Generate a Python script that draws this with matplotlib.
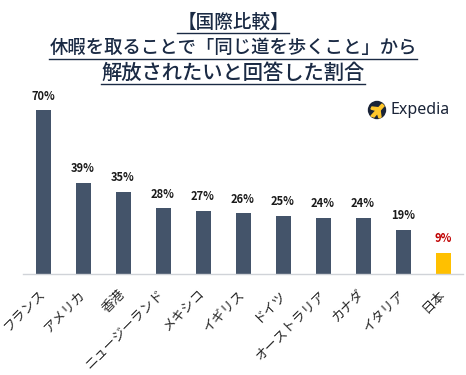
import matplotlib
matplotlib.use('Agg')
import matplotlib.pyplot as plt
from matplotlib.lines import Line2D
from matplotlib.patches import Circle, Polygon

plt.rcParams['font.family'] = ['Noto Sans CJK JP', 'DejaVu Sans']

countries = ['フランス', 'アメリカ', '香港', 'ニュージーランド', 'メキシコ', 'イギリス',
             'ドイツ', 'オーストラリア', 'カナダ', 'イタリア', '日本']
values = [70, 39, 35, 28, 27, 26, 25, 24, 24, 19, 9]
title_lines = ['【国際比較】', '休暇を取ることで「同じ道を歩くこと」から', '解放されたいと回答した割合']

W, H = 466, 375
fig = plt.figure(figsize=(W / 100, H / 100), dpi=100)
ax = fig.add_axes([23 / W, 1 - 274 / H, 440 / W, 190 / H])

colors = ['#44546A'] * 10 + ['#FFC000']
x = range(len(values))
ax.bar(x, values, width=0.375, color=colors)
ax.set_xlim(-0.5, 10.5)
ax.set_ylim(0, 190 / 2.34)

for i, v in enumerate(values):
    is_jp = countries[i] == '日本'
    ax.annotate(f'{v}%', (i, v), xytext=(0, 5.5), textcoords='offset points',
                ha='center', va='bottom', fontsize=8, fontweight='bold',
                color='#C00000' if is_jp else '#1A1A1A')

ax.set_xticks(list(x))
ax.set_xticklabels(countries, rotation=45, ha='right', va='center', rotation_mode='anchor',
                   fontsize=9.5, color='#262626')
ax.tick_params(axis='x', length=0, pad=13)
ax.set_yticks([])
for s in ['top', 'left', 'right']:
    ax.spines[s].set_visible(False)
ax.spines['bottom'].set_color('#D0D3D8')
ax.spines['bottom'].set_linewidth(1)

# title, underline drawn from the text extents
# the reference squeezes its brackets, so lines 1 and 2 need a smaller size to fit
title_y = [22, 47.5, 73]
title_sizes = [13.4, 13.2, 14.6]
fig.canvas.draw()
renderer = fig.canvas.get_renderer()
for line, y, size in zip(title_lines, title_y, title_sizes):
    t = fig.text(233 / W, 1 - y / H, line, ha='center', va='center', fontsize=size,
                 color='#1A2A44', fontweight='medium')
    bb = t.get_window_extent(renderer)
    fig.add_artist(Line2D([bb.x0 / W, bb.x1 / W], [1 - (round(y) + 11) / H] * 2,
                          color='#1A2A44', lw=1))

# Expedia mark
logo = fig.add_axes([0, 0, 1, 1], facecolor='none')
logo.set_xlim(0, W)
logo.set_ylim(H, 0)
logo.axis('off')
logo.add_patch(Circle((377, 110), 8.5, color='#1A2438'))
logo.add_patch(Polygon([(371, 116), (382, 104), (384, 106), (374, 117)], color='#FFC72C'))
logo.add_patch(Polygon([(372, 107), (381, 108), (378, 111), (371, 109)], color='#FFC72C'))
logo.add_patch(Polygon([(377, 112), (380, 110), (381, 117), (379, 118)], color='#FFC72C'))
logo.text(390, 110, 'Expedia', ha='left', va='center', fontsize=11.5, color='#1A2438',
          family='Noto Sans')

fig.savefig('out.png', dpi=100, facecolor='white')
